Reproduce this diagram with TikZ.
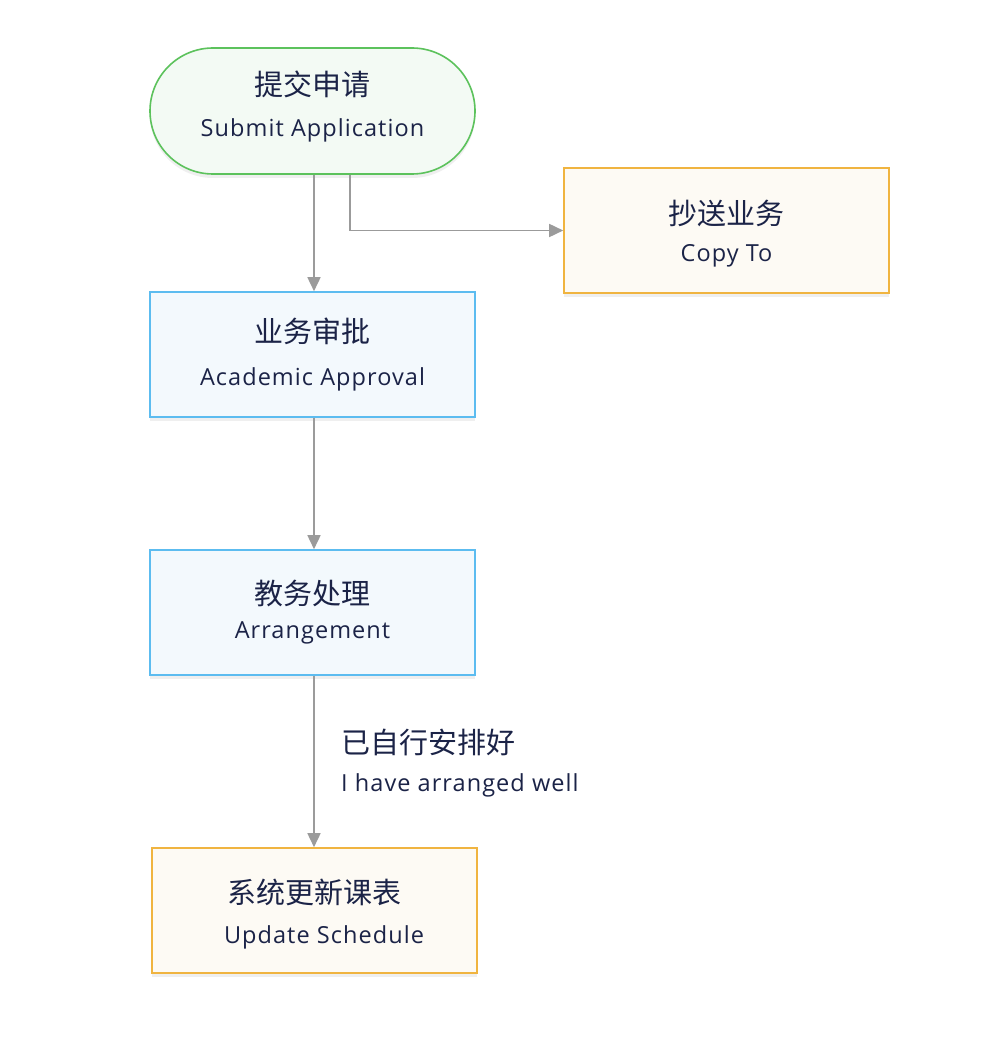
\documentclass[tikz,border=0pt]{standalone}
\usepackage{fontspec}
\setmainfont{Noto Sans CJK SC}
\newfontfamily\enfont[LetterSpace=4.5]{Open Sans}
\usetikzlibrary{arrows.meta,shadows,calc}
\definecolor{txt}{HTML}{1B2347}
\definecolor{greenline}{HTML}{5CC25C}
\definecolor{greenfill}{HTML}{F3FAF4}
\definecolor{blueline}{HTML}{5CBCF0}
\definecolor{bluefill}{HTML}{F3F9FD}
\definecolor{orangeline}{HTML}{F0B440}
\definecolor{orangefill}{HTML}{FDFAF4}
\definecolor{arrowgray}{HTML}{9B9B9B}
\tikzset{
  x=1pt,y=-1pt,
  box/.style={draw, line width=1.6pt, minimum width=325pt, minimum height=125pt,
    inner sep=0pt,
    drop shadow={opacity=0.12, shadow xshift=0pt, shadow yshift=-4pt}},
  bluebox/.style={box, draw=blueline, fill=bluefill},
  orangebox/.style={box, draw=orangeline, fill=orangefill},
  startbox/.style={box, draw=greenline, fill=greenfill, rounded corners=63pt, minimum height=126pt},
  flow/.style={draw=arrowgray, line width=1.6pt, -{Triangle[length=14pt,width=13pt]}},
  zhtext/.style={text=txt, inner sep=0pt, font=\fontsize{29}{33}\selectfont},
  entext/.style={text=txt, inner sep=0pt, font=\enfont\fontsize{23.5}{28}\selectfont},
}
\begin{document}
\begin{tikzpicture}
\path[use as bounding box, fill=white] (0,0) rectangle (988,1064);
% boxes
\node[startbox] (start) at (312.5,111) {};
\node[orangebox] (copy) at (726.5,230.5) {};
\node[bluebox] (approve) at (312.5,354.5) {};
\node[bluebox] (arrange) at (312.5,612.5) {};
\node[orangebox] (update) at (314.5,910.5) {};
% texts
\node[zhtext] (startzh) at ($(start.center)+(0,-27)$) {提交申请};
\node[entext] (starten) at ($(start.center)+(0,19)$) {Submit Application};
\node[zhtext] (copyzh) at ($(copy.center)+(0,-17.5)$) {抄送业务};
\node[entext] (copyen) at ($(copy.center)+(0,25.5)$) {Copy To};
\node[zhtext] (approvezh) at ($(approve.center)+(0,-23.5)$) {业务审批};
\node[entext] (approveen) at ($(approve.center)+(0,24.5)$) {Academic Approval};
\node[zhtext] (arrangezh) at ($(arrange.center)+(0,-18.5)$) {教务处理};
\node[entext] (arrangeen) at ($(arrange.center)+(0,20.5)$) {Arrangement};
\node[zhtext] (updatezh) at ($(update.center)+(0,-18.5)$) {系统更新课表};
\node[entext] (updateen) at ($(update.center)+(9.5,26.5)$) {Update Schedule};
% connectors
\draw[flow] (start.south -| 314,0) -- (approve.north -| 314,0);
\draw[flow] (start.south -| 350,0) |- (copy.west);
\draw[flow] (approve.south -| 314,0) -- (arrange.north -| 314,0);
\draw[flow] (arrange.south -| 314,0) -- (update.north -| 314,0);
% edge label
\node[zhtext, anchor=west] (lblzh) at (341,742) {已自行安排好};
\node[entext, anchor=west] (lblen) at (341,785) {I have arranged well};
\end{tikzpicture}
\end{document}
